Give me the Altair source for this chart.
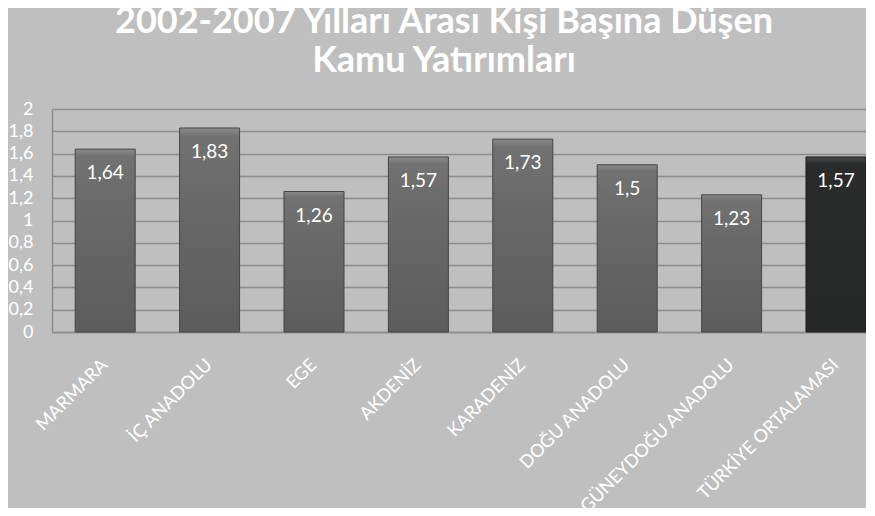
import altair as alt
import pandas as pd

# ---- data ----
regions = ["MARMARA", "İÇ ANADOLU", "EGE", "AKDENİZ", "KARADENİZ",
           "DOĞU ANADOLU", "GÜNEYDOĞU ANADOLU", "TÜRKİYE ORTALAMASI"]
values = [1.64, 1.83, 1.26, 1.57, 1.73, 1.5, 1.23, 1.57]
value_labels = ["1,64", "1,83", "1,26", "1,57", "1,73", "1,5", "1,23", "1,57"]
y_ticks = [0, 0.2, 0.4, 0.6, 0.8, 1, 1.2, 1.4, 1.6, 1.8, 2]
average_name = "TÜRKİYE ORTALAMASI"
title_lines = ["2002-2007 Yılları Arası Kişi Başına Düşen", "Kamu Yatırımları"]

df = pd.DataFrame({"region": regions, "value": values, "label": value_labels})

FONT = "Lato"
BG = "#bfbfbf"
GRID = "#8c8c8c"

x_enc = alt.X(
    "region:N", sort=regions, title=None,
    scale=alt.Scale(paddingInner=0.4253, paddingOuter=0.111, align=1),
    axis=alt.Axis(labelAngle=-45, labelAlign="right", labelBaseline="middle",
                  labelColor="white", labelFontSize=18, labelFont=FONT,
                  labelPadding=30, ticks=False, domainColor=GRID, domainWidth=1.5,
                  labelOverlap=False, labelLimit=0),
)
y_enc = alt.Y(
    "value:Q", title=None,
    scale=alt.Scale(domain=[0, 2], nice=False),
    axis=alt.Axis(values=y_ticks, labelExpr="replace(format(datum.value, '~g'), '.', ',')",
                  labelColor="white", labelFontSize=18, labelFont=FONT,
                  labelPadding=19, ticks=False, grid=True, gridColor=GRID,
                  gridWidth=1.5, domainColor=GRID, domainWidth=1.5),
)

grad_regular = alt.Gradient(
    gradient="linear", x1=0, x2=0, y1=0, y2=1,
    stops=[alt.GradientStop(color="#8a8a8a", offset=0),
           alt.GradientStop(color="#727272", offset=0.04),
           alt.GradientStop(color="#6a6a6a", offset=0.3),
           alt.GradientStop(color="#5c5c5c", offset=1)],
)
grad_avg = alt.Gradient(
    gradient="linear", x1=0, x2=0, y1=0, y2=1,
    stops=[alt.GradientStop(color="#4a4c4c", offset=0),
           alt.GradientStop(color="#2a2c2c", offset=0.04),
           alt.GradientStop(color="#262828", offset=1)],
)

base = alt.Chart(df).encode(x=x_enc, y=y_enc)

bars_regular = base.transform_filter(alt.datum.region != average_name).mark_bar(
    fill=grad_regular, stroke="#454545", strokeWidth=1)
bars_avg = base.transform_filter(alt.datum.region == average_name).mark_bar(
    fill=grad_avg, stroke="#1a1a1a", strokeWidth=1)

labels = base.mark_text(color="white", font=FONT, fontSize=19, baseline="middle",
                        dy=24).encode(text="label:N")

chart = alt.layer(bars_regular, bars_avg, labels).properties(
    width=814, height=223,
    background=BG,
    padding={"left": 44, "top": 101, "right": 0, "bottom": 176},
    autosize=alt.AutoSizeParams(type="none"),
    title=alt.TitleParams(title_lines, font=FONT, fontSize=36, fontWeight="bold",
                          color="white", anchor="middle", offset=20, dx=-15,
                          lineHeight=39),
).configure_view(stroke=None)

chart.save("out.html", embed_options={"renderer": "svg", "actions": False})
